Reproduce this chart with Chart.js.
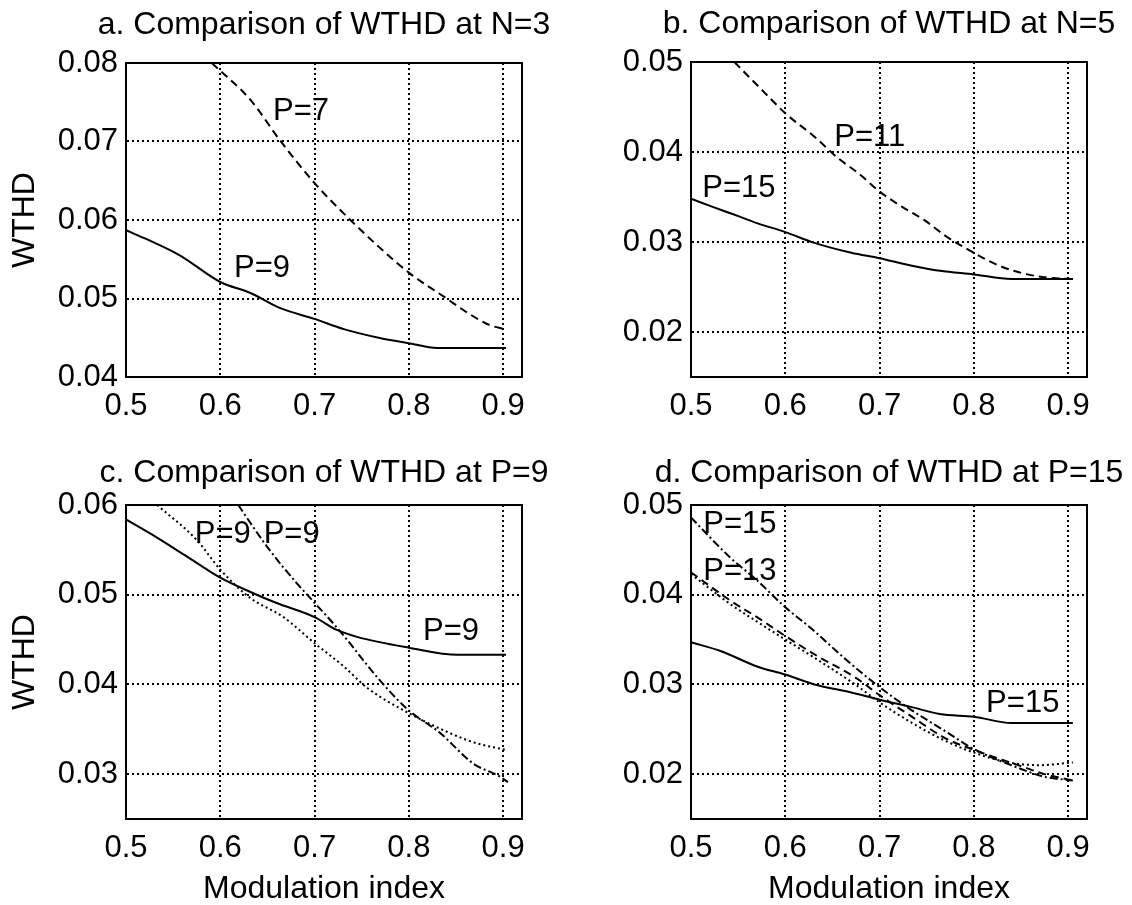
<!DOCTYPE html>
<html>
<head>
<meta charset="utf-8">
<script src="https://cdn.jsdelivr.net/npm/chart.js@4.4.0/dist/chart.umd.min.js"></script>
<style>
body { margin: 0; background: #fff; }
.panel { position: absolute; }
</style>
</head>
<body>
<div class="panel" style="left:0;top:0"><canvas id="chartA" width="566" height="440"></canvas></div>
<div class="panel" style="left:566px;top:0"><canvas id="chartB" width="566" height="440"></canvas></div>
<div class="panel" style="left:0;top:440px"><canvas id="chartC" width="566" height="465"></canvas></div>
<div class="panel" style="left:566px;top:440px"><canvas id="chartD" width="566" height="465"></canvas></div>
<script>
// tick labels
var xTicks = [0.5, 0.6, 0.7, 0.8, 0.9];

// a. N=3
var mA9 = [0.5, 0.523, 0.557, 0.6, 0.632, 0.663, 0.7, 0.731, 0.768, 0.8, 0.83, 0.903];
var wA9 = [0.0587, 0.0575, 0.0555, 0.0521, 0.0507, 0.0488, 0.0474, 0.0461, 0.0450, 0.0443, 0.0437, 0.0437];
var mA7 = [0.591, 0.632, 0.663, 0.7, 0.738, 0.768, 0.8, 0.84, 0.862, 0.886, 0.902];
var wA7 = [0.0800, 0.0753, 0.0702, 0.0647, 0.0600, 0.0566, 0.0533, 0.0500, 0.0482, 0.0466, 0.0461];

// b. N=5
var mB15 = [0.5, 0.523, 0.547, 0.57, 0.6, 0.631, 0.67, 0.7, 0.733, 0.764, 0.8, 0.84, 0.905];
var wB15 = [0.0348, 0.0339, 0.0330, 0.0321, 0.0311, 0.0299, 0.0288, 0.0282, 0.0274, 0.0268, 0.0264, 0.0259, 0.0259];
var mB11 = [0.546, 0.578, 0.6, 0.631, 0.655, 0.678, 0.7, 0.724, 0.748, 0.771, 0.8, 0.826, 0.857, 0.884, 0.905];
var wB11 = [0.0500, 0.0466, 0.0443, 0.0417, 0.0394, 0.0376, 0.0356, 0.0339, 0.0324, 0.0306, 0.0288, 0.0274, 0.0264, 0.0260, 0.0259];

// c. P=9
var mC1 = [0.5, 0.526, 0.564, 0.6, 0.632, 0.659, 0.7, 0.723, 0.745, 0.8, 0.852, 0.903];
var wC1 = [0.0584, 0.0568, 0.0543, 0.0519, 0.0503, 0.0491, 0.0475, 0.0461, 0.0453, 0.0441, 0.0433, 0.0433];
var mC2 = [0.533, 0.575, 0.6, 0.631, 0.667, 0.7, 0.731, 0.756, 0.8, 0.843, 0.87, 0.903];
var wC2 = [0.0600, 0.0561, 0.0528, 0.0497, 0.0475, 0.0446, 0.0420, 0.0396, 0.0368, 0.0346, 0.0335, 0.0327];
var mC3 = [0.619, 0.650, 0.681, 0.700, 0.724, 0.773, 0.800, 0.833, 0.868, 0.897, 0.905];
var wC3 = [0.0600, 0.0553, 0.0513, 0.0491, 0.0463, 0.0400, 0.0371, 0.0346, 0.0312, 0.0297, 0.0291];

// d. P=15
var mD1 = [0.5, 0.532, 0.57, 0.6, 0.631, 0.67, 0.7, 0.733, 0.764, 0.8, 0.84, 0.905];
var wD1 = [0.0347, 0.0337, 0.0320, 0.0311, 0.0300, 0.0291, 0.0283, 0.0275, 0.0267, 0.0264, 0.0257, 0.0257];
var mD2 = [0.5, 0.541, 0.570, 0.6, 0.628, 0.664, 0.7, 0.733, 0.768, 0.8, 0.847, 0.875, 0.905];
var wD2 = [0.0486, 0.0442, 0.0416, 0.0386, 0.0362, 0.0328, 0.0297, 0.0272, 0.0249, 0.0228, 0.0207, 0.0197, 0.0193];
var mD3 = [0.5, 0.541, 0.57, 0.6, 0.635, 0.674, 0.7, 0.733, 0.768, 0.8, 0.847, 0.875, 0.905];
var wD3 = [0.0425, 0.0394, 0.0375, 0.0354, 0.0331, 0.0308, 0.0288, 0.0265, 0.0241, 0.0227, 0.0210, 0.0200, 0.0193];
var mD4 = [0.5, 0.541, 0.57, 0.6, 0.635, 0.674, 0.7, 0.733, 0.768, 0.8, 0.837, 0.87, 0.905];
var wD4 = [0.0423, 0.0390, 0.0370, 0.0350, 0.0327, 0.0300, 0.0280, 0.0258, 0.0238, 0.0224, 0.0213, 0.0210, 0.0213];

var FONT = '"Liberation Sans", Arial, Helvetica, sans-serif';
Chart.defaults.font.family = FONT;
Chart.defaults.color = '#000';

var SOLID = [], DASH = [8, 5], DOT = [2, 3], DASHDOT = [8, 3, 2, 3];

function pts(xs, ys) {
    return xs.map((x, i) => ({ x: x, y: ys[i] }));
}

function line(xs, ys, dash) {
    return {
        data: pts(xs, ys),
        borderColor: '#000',
        borderWidth: 2,
        borderDash: dash,
        pointRadius: 0,
        cubicInterpolationMode: 'monotone',
        fill: false
    };
}

// frame, panel title and P= labels
var panelText = {
    id: 'panelText',
    afterDraw(chart, args, opts) {
        var ctx = chart.ctx, a = chart.chartArea;
        var sx = chart.scales.x, sy = chart.scales.y;
        ctx.save();
        ctx.lineWidth = 2;
        ctx.strokeStyle = '#000';
        ctx.strokeRect(a.left, a.top, a.right - a.left, a.bottom - a.top);
        ctx.fillStyle = '#000';
        ctx.textBaseline = 'alphabetic';
        ctx.font = '32px ' + FONT;
        ctx.textAlign = 'center';
        ctx.fillText(opts.title, (a.left + a.right) / 2, a.top - opts.titleGap);
        ctx.font = '31px ' + FONT;
        ctx.textAlign = 'left';
        opts.labels.forEach(l => {
            ctx.fillText(l.text, sx.getPixelForValue(l.x), sy.getPixelForValue(l.y));
        });
        ctx.restore();
    }
};

function makeChart(id, p) {
    var gridOpts = { color: '#000', lineWidth: 2, drawTicks: false };
    var borderOpts = { display: true, color: '#000', width: 2, dash: DOT };
    new Chart(document.getElementById(id), {
        type: 'line',
        data: { datasets: p.datasets },
        plugins: [panelText],
        options: {
            responsive: false,
            animation: false,
            layout: { padding: { left: 0, top: p.top, right: p.right, bottom: 0 } },
            scales: {
                x: {
                    type: 'linear',
                    min: 0.5,
                    max: 0.92,
                    afterBuildTicks: s => { s.ticks = xTicks.map(v => ({ value: v })); },
                    ticks: { padding: 11, font: { size: 31 }, callback: v => v.toFixed(1) },
                    grid: gridOpts,
                    border: borderOpts,
                    title: { display: !!p.xTitle, text: p.xTitle || '', font: { size: 32, lineHeight: 1.0 }, padding: { top: 0, bottom: 0 } },
                    afterFit: s => { s.height = p.xh; }
                },
                y: {
                    type: 'linear',
                    min: p.ymin,
                    max: p.ymax,
                    ticks: { stepSize: 0.01, includeBounds: false, padding: 8, font: { size: 31 }, callback: v => v.toFixed(2) },
                    grid: gridOpts,
                    border: borderOpts,
                    title: { display: !!p.yTitle, text: p.yTitle || '', font: { size: 32 }, padding: { top: 6, bottom: 0 } },
                    afterFit: s => { s.width = p.yw; }
                }
            },
            plugins: {
                legend: { display: false },
                tooltip: { enabled: false },
                panelText: { title: p.title, titleGap: p.titleGap, labels: p.labels }
            }
        }
    });
}

makeChart('chartA', {
    title: 'a. Comparison of WTHD at N=3', titleGap: 29,
    top: 63, right: 44, xh: 63, yw: 126, ymin: 0.04, ymax: 0.08, yTitle: 'WTHD',
    datasets: [line(mA9, wA9, SOLID), line(mA7, wA7, DASH)],
    labels: [{ text: 'P=7', x: 0.656, y: 0.0727 }, { text: 'P=9', x: 0.6145, y: 0.0527 }]
});

makeChart('chartB', {
    title: 'b. Comparison of WTHD at N=5', titleGap: 29,
    top: 62, right: 45, xh: 63, yw: 125, ymin: 0.015, ymax: 0.05,
    datasets: [line(mB15, wB15, SOLID), line(mB11, wB11, DASH)],
    labels: [{ text: 'P=11', x: 0.652, y: 0.0407 }, { text: 'P=15', x: 0.512, y: 0.035 }]
});

makeChart('chartC', {
    title: 'c. Comparison of WTHD at P=9', titleGap: 23,
    top: 65, right: 44, xh: 86, yw: 126, ymin: 0.025, ymax: 0.06, yTitle: 'WTHD', xTitle: 'Modulation index',
    datasets: [line(mC1, wC1, SOLID), line(mC2, wC2, DOT), line(mC3, wC3, DASHDOT)],
    labels: [{ text: 'P=9', x: 0.573, y: 0.0558 }, { text: 'P=9', x: 0.646, y: 0.0558 }, { text: 'P=9', x: 0.815, y: 0.045 }]
});

makeChart('chartD', {
    title: 'd. Comparison of WTHD at P=15', titleGap: 23,
    top: 65, right: 45, xh: 86, yw: 125, ymin: 0.015, ymax: 0.05, xTitle: 'Modulation index',
    datasets: [line(mD1, wD1, SOLID), line(mD2, wD2, DASHDOT), line(mD3, wD3, DASH), line(mD4, wD4, DOT)],
    labels: [{ text: 'P=15', x: 0.513, y: 0.0469 }, { text: 'P=13', x: 0.513, y: 0.0416 }, { text: 'P=15', x: 0.813, y: 0.0269 }]
});
</script>
</body>
</html>
